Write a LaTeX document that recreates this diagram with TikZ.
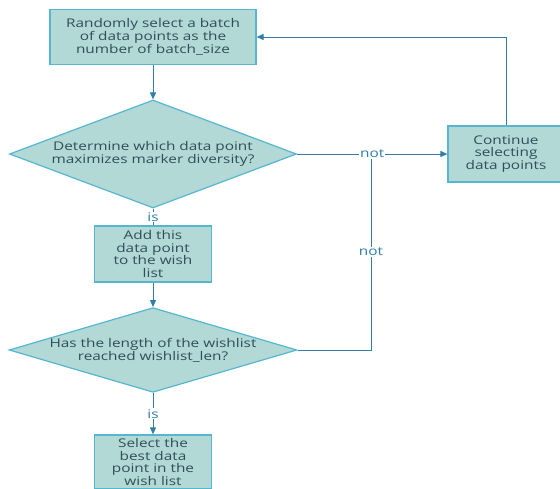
\documentclass[tikz,border=0pt]{standalone}
\usepackage{fontspec}
\setmainfont[FakeStretch=1.28]{Open Sans}
\usetikzlibrary{arrows.meta, positioning, shapes.geometric}
\definecolor{cfill}{HTML}{B3D9D6}
\definecolor{cline}{HTML}{55B6D0}
\definecolor{cedge}{HTML}{2F7EA6}
\definecolor{ctext}{HTML}{2E4F5A}
\tikzset{
  every picture/.style={font=\fontsize{12}{12.8}\selectfont, line width=1pt},
  box/.style={draw=cline, fill=cfill, text=ctext, align=center, inner sep=2pt, line width=1.2pt},
  arrow/.style={-{Triangle[length=7pt, width=6pt]}, draw=cedge, line width=1pt},
  lbl/.style={fill=white, text=cedge, inner sep=1pt},
}

\begin{document}
\begin{tikzpicture}[
    x=1pt, y=-1pt,
    proc/.style={box, minimum width=#1, minimum height=55pt},
    ask/.style={box, diamond, inner sep=0pt},
  ]
  \useasboundingbox (0,0) rectangle (560,488);

  % main column
  \node[proc=206, text width=200pt] (sel) at (153,37) {Randomly select a batch\\of data points as the\\number of batch\_size};
  \node[ask, minimum width=287pt, minimum height=108pt, aspect=2.66] (div) at (153,154) {Determine which data point\\maximizes marker diversity?};
  \node[proc=117, minimum height=56pt, text width=110pt] (add) at (153,254) {Add this\\data point\\to the wish\\list};
  \node[ask, minimum width=284pt, minimum height=84pt, aspect=3.4] (len) at (153,350) {Has the length of the wishlist\\reached wishlist\_len?};
  \node[proc=117, minimum height=54pt, text width=110pt] (best) at (153,462) {Select the\\best data\\point in the\\wish list};

  % side box
  \node[proc=116, minimum height=56pt, text width=110pt] (cont) at (506,154) {Continue\\selecting\\data points};

  % connectors
  \coordinate (j) at (371,154);
  \draw[draw=cedge] (len.east) -| node[lbl, pos=0.75] {not} (j);
  \draw[arrow] (sel) -- (div);
  \draw[arrow] (div.east) -- node[lbl] {not} (cont.west);
  \draw[draw=cedge] (div.south) -- node[lbl] {is} (add.north);
  \draw[arrow] (add) -- (len);
  \draw[arrow] (len.south) -- node[lbl] {is} (best.north);
  \draw[arrow] (cont.north) |- (sel.east);
\end{tikzpicture}
\end{document}
